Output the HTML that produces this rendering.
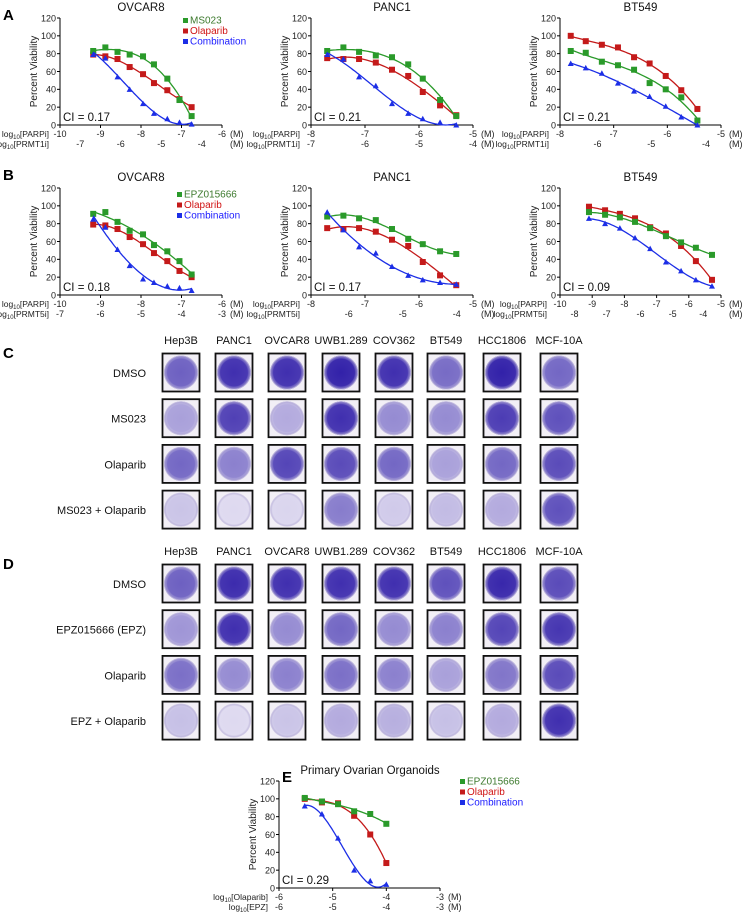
<!DOCTYPE html>
<html><head><meta charset="utf-8"><style>
body{margin:0;background:#fff;}
svg{display:block;font-family:"Liberation Sans",Arial,sans-serif;}
</style></head><body>
<svg id="fig" width="743" height="913" viewBox="0 0 743 913" xmlns="http://www.w3.org/2000/svg">
<defs>
<radialGradient id="wellg" cx="50%" cy="50%" r="50%">
<stop offset="0%" stop-color="#fff" stop-opacity="0"/>
<stop offset="80%" stop-color="#fff" stop-opacity="0.05"/>
<stop offset="92%" stop-color="#b8b0d8" stop-opacity="0.5"/>
<stop offset="100%" stop-color="#d8d2e8" stop-opacity="1"/>
</radialGradient>
</defs>
<g id="charts"></g>
<g id="wells"></g>
</svg>
<script>
// ---------- data ----------
const aOvX=[-9.18,-8.88,-8.58,-8.28,-7.95,-7.68,-7.35,-7.05,-6.75];
const aOvG=[83,87,82,79,77,68,52,28,10];
const aOvR=[79,77,74,65,57,47,39,29,20];
const aOvB=[79,75,54,40,24,13,7,3,1];
const aPaX=[-7.7,-7.4,-7.11,-6.8,-6.5,-6.2,-5.93,-5.61,-5.31];
const aPaG=[83,87,82,78,76,68,52,28,10];
const aPaR=[75,74,74,70,62,55,37,22,11];
const aPaB=[79,74,54,44,24,13,7,3,0];
const aBtX=[-7.8,-7.52,-7.22,-6.92,-6.62,-6.33,-6.03,-5.74,-5.44];
const aBtG=[83,81,71,67,62,47,40,31,5];
const aBtR=[100,94,90,87,76,69,55,39,18];
const aBtB=[69,64,58,47,38,32,21,9,0];
const bOvX=[-9.18,-8.88,-8.58,-8.28,-7.95,-7.68,-7.35,-7.05,-6.75];
const bOvG=[91,93,82,72,68,56,49,38,23];
const bOvR=[79,78,74,65,57,47,38,27,20];
const bOvB=[85,76,51,33,18,14,10,8,5];
const bPaX=[-7.7,-7.4,-7.11,-6.8,-6.5,-6.2,-5.93,-5.61,-5.31];
const bPaG=[88,89,86,84,74,63,57,49,46];
const bPaR=[75,74,75,71,62,55,37,22,11];
const bPaB=[93,73,54,47,32,22,17,14,12];
const bBtX=[-9.1,-8.6,-8.14,-7.67,-7.2,-6.71,-6.24,-5.78,-5.28];
const bBtG=[93,90,87,82,75,66,59,53,45];
const bBtR=[99,95,91,86,76,69,55,38,17];
const bBtB=[86,80,75,64,52,37,27,17,10];
const eX=[-5.52,-5.2,-4.9,-4.6,-4.3,-4.0];
const eG=[101,97,94,86,83,72];
const eR=[100,96,95,81,60,28];
const eB=[92,83,56,20,8,4];
const yTicks=[0,20,40,60,80,100,120];

const cLines=["Hep3B","PANC1","OVCAR8","UWB1.289","COV362","BT549","HCC1806","MCF-10A"];
const cRows=["DMSO","MS023","Olaparib","MS023 + Olaparib"];
const dRows=["DMSO","EPZ015666 (EPZ)","Olaparib","EPZ + Olaparib"];
const cDens=[[0.65,0.88,0.88,0.95,0.88,0.6,0.95,0.62],[0.35,0.8,0.3,0.88,0.45,0.45,0.82,0.72],[0.62,0.5,0.78,0.75,0.62,0.35,0.62,0.75],[0.18,0.08,0.1,0.52,0.15,0.22,0.3,0.72]];
const dDens=[[0.65,0.9,0.88,0.88,0.88,0.72,0.92,0.75],[0.4,0.88,0.45,0.62,0.45,0.5,0.78,0.85],[0.58,0.45,0.5,0.58,0.5,0.35,0.55,0.75],[0.2,0.08,0.18,0.3,0.28,0.2,0.3,0.88]];

// ---------- drawing ----------
const NS="http://www.w3.org/2000/svg";
const root=document.getElementById('charts');
function mk(tag,attrs,parent,txt){const e=document.createElementNS(NS,tag);for(const k in attrs)e.setAttribute(k,attrs[k]);if(txt!==undefined)e.textContent=txt;(parent||root).appendChild(e);return e;}
const COL={g:"#2a9a2a",r:"#c41a1a",b:"#1c2ee6"};
const LCOL={g:"#3d7a2e",r:"#d01515",b:"#1a1aff"};

function polyfit(xs,ys,deg){
  const n=deg+1,A=[];
  for(let i=0;i<n;i++){A.push(new Array(n+1).fill(0));}
  xs.forEach((x,k)=>{for(let i=0;i<n;i++){for(let j=0;j<n;j++)A[i][j]+=Math.pow(x,i+j);A[i][n]+=ys[k]*Math.pow(x,i);}});
  for(let i=0;i<n;i++){let p=i;for(let r=i+1;r<n;r++)if(Math.abs(A[r][i])>Math.abs(A[p][i]))p=r;[A[i],A[p]]=[A[p],A[i]];
    for(let r=0;r<n;r++){if(r===i)continue;const f=A[r][i]/A[i][i];for(let c=i;c<=n;c++)A[r][c]-=f*A[i][c];}}
  return A.map((row,i)=>row[n]/row[i]);
}

function chart(c){
  const g=mk('g',{});
  
  
  const sx=v=>c.x0+(v-c.xmin)/(c.xmax-c.xmin)*(c.x1-c.x0);
  const sy=v=>c.y0-(v/120)*(c.y0-c.y1);
  const t=mk('text',{x:c.tx||(c.x0+c.x1)/2,y:c.y1-7,'font-size':11.5,'text-anchor':'middle',fill:'#111'},g,c.title);
  
  mk('line',{x1:c.x0,y1:c.y0,x2:c.x0,y2:c.y1,stroke:'#000','stroke-width':1},g);
  mk('line',{x1:c.x0,y1:c.y0,x2:c.x1,y2:c.y0,stroke:'#000','stroke-width':1},g);
  yTicks.forEach(v=>{
    mk('line',{x1:c.x0-3,y1:sy(v),x2:c.x0,y2:sy(v),stroke:'#000'},g);
    const tl=mk('text',{x:c.x0-4,y:sy(v)+3.3,'font-size':9,'text-anchor':'end',fill:'#222'},g,String(v));
    
  });
  const yt=mk('text',{x:0,y:0,'font-size':10,'text-anchor':'middle',fill:'#222',transform:`translate(${c.x0-23},${(c.y0+c.y1)/2}) rotate(-90)`},g,'Percent Viability');
  
  for(let v=c.xmin;v<=c.xmax;v++){
    mk('line',{x1:sx(v),y1:c.y0,x2:sx(v),y2:c.y0+3,stroke:'#000'},g);
    const tl=mk('text',{x:sx(v),y:c.y0+12,'font-size':9,'text-anchor':'middle',fill:'#222'},g,String(v));
    
  }
  c.sec.forEach(s=>{
    const tl=mk('text',{x:sx(s[0]),y:c.y0+22,'font-size':9,'text-anchor':'middle',fill:'#222'},g,s[1]);
    
  });
  mk('text',{x:c.x1+8,y:c.y0+12,'font-size':9,fill:'#222'},g,'(M)');
  mk('text',{x:c.x1+8,y:c.y0+22,'font-size':9,fill:'#222'},g,'(M)');
  [[c.l1,12],[c.l2,22]].forEach(([lab,dy])=>{
    const tx=mk('text',{x:c.x0-11-(c.lpad||0),y:c.y0+dy,'font-size':8.5,'text-anchor':'end',fill:'#222'},g);
    mk('tspan',{},tx,'log');mk('tspan',{'font-size':6,dy:2},tx,'10');mk('tspan',{dy:-2},tx,'['+lab+']');
    
  });
  const ci=mk('text',{x:c.x0+3,y:c.y0-4,'font-size':11.5,fill:'#111'},g,'CI = '+c.ci);
  
  c.series.forEach(s=>{
    const coef=polyfit(c.xs,s.v,3);
    const xa=c.xs[0],xb=c.xs[c.xs.length-1];
    let d="";
    for(let k=0;k<=60;k++){const x=xa+(xb-xa)*k/60;let y=coef[0]+coef[1]*x+coef[2]*x*x+coef[3]*x*x*x;y=Math.min(105,Math.max(0,y));
      d+=(k?"L":"M")+sx(x).toFixed(1)+","+sy(y).toFixed(1);}
    const p=mk('path',{d:d,fill:'none',stroke:COL[s.k],'stroke-width':1.3},g);
    
    c.xs.forEach((x,i)=>{
      const q=[sx(x),sy(s.v[i])];
      let m;
      if(s.k==='b') m=mk('polygon',{points:`${q[0]},${q[1]-3} ${q[0]-3},${q[1]+2.5} ${q[0]+3},${q[1]+2.5}`,fill:COL.b},g);
      else m=mk('rect',{x:q[0]-3,y:q[1]-3,width:6,height:6,fill:COL[s.k]},g);
      
    });
  });
  if(c.legend){
    const [lx,ly,names]=c.legend;
    ['g','r','b'].forEach((k,i)=>{
      mk('rect',{x:lx,y:ly+i*10.5-4,width:5,height:5,fill:COL[k]},g);
      const lt=mk('text',{x:lx+7,y:ly+i*10.5+1.5,'font-size':10,fill:LCOL[k]},g,names[i]);
      
    });
  }
}
const ser=(G,R,B,gn)=>[{k:'r',v:R,n:'olaparib'},{k:'g',v:G,n:gn},{k:'b',v:B,n:'combination'}];
chart({name:'chart-a-ovcar8',title:'OVCAR8',x0:60,x1:222,y0:125,y1:18,xmin:-10,xmax:-6,xs:aOvX,series:ser(aOvG,aOvR,aOvB,'ms023'),ci:'0.17',l1:'PARPi',l2:'PRMT1i',sec:[[-9.5,'-7'],[-8.5,'-6'],[-7.5,'-5'],[-6.5,'-4']],legend:[183,22,['MS023','Olaparib','Combination']]});
chart({name:'chart-a-panc1',title:'PANC1',x0:311,x1:473,y0:125,y1:18,xmin:-8,xmax:-5,xs:aPaX,series:ser(aPaG,aPaR,aPaB,'ms023'),ci:'0.21',l1:'PARPi',l2:'PRMT1i',sec:[[-8,'-7'],[-7,'-6'],[-6,'-5'],[-5,'-4']]});
chart({name:'chart-a-bt549',title:'BT549',x0:560,x1:721,y0:125,y1:18,xmin:-8,xmax:-5,xs:aBtX,series:ser(aBtG,aBtR,aBtB,'ms023'),ci:'0.21',l1:'PARPi',l2:'PRMT1i',sec:[[-7.3,'-6'],[-6.3,'-5'],[-5.28,'-4']]});
chart({name:'chart-b-ovcar8',title:'OVCAR8',x0:60,x1:222,y0:295,y1:188,xmin:-10,xmax:-6,xs:bOvX,series:ser(bOvG,bOvR,bOvB,'epz015666'),ci:'0.18',l1:'PARPi',l2:'PRMT5i',sec:[[-10,'-7'],[-9,'-6'],[-8,'-5'],[-7,'-4'],[-6,'-3']],legend:[177,196,['EPZ015666','Olaparib','Combination']]});
chart({name:'chart-b-panc1',title:'PANC1',x0:311,x1:473,y0:295,y1:188,xmin:-8,xmax:-5,xs:bPaX,series:ser(bPaG,bPaR,bPaB,'epz015666'),ci:'0.17',l1:'PARPi',l2:'PRMT5i',sec:[[-7.3,'-6'],[-6.3,'-5'],[-5.3,'-4']]});
chart({name:'chart-b-bt549',title:'BT549',x0:560,x1:721,y0:295,y1:188,xmin:-10,xmax:-5,xs:bBtX,series:ser(bBtG,bBtR,bBtB,'epz015666'),ci:'0.09',l1:'PARPi',l2:'PRMT5i',lpad:2,sec:[[-9.55,'-8'],[-8.55,'-7'],[-7.5,'-6'],[-6.5,'-5'],[-5.55,'-4']]});
chart({name:'chart-e-organoids',title:'Primary Ovarian Organoids',tx:370,x0:279,x1:440,y0:888,y1:781,xmin:-6,xmax:-3,xs:eX,series:ser(eG,eR,eB,'epz015666'),ci:'0.29',l1:'Olaparib',l2:'EPZ',sec:[[-6,'-6'],[-5,'-5'],[-4,'-4'],[-3,'-3']],legend:[460,783,['EPZ015666','Olaparib','Combination']]});

[['A',3,20],['B',3,180],['C',3,358],['D',3,569],['E',282,782]].forEach(([l,x,y])=>{
  const t=mk('text',{x:x,y:y,'font-size':15,'font-weight':'bold',fill:'#000'},root,l);
  
});

const wr=document.getElementById('wells');
const colX=[181,234,287,341,394,446,502,559];
function lerp(a,b,t){return Math.round(a+(b-a)*t);}
function wellColor(d){return `rgb(${lerp(238,40,d)},${lerp(234,22,d)},${lerp(246,165,d)})`;}
function plate(top,rows,dens,tag){
  cLines.forEach((n,i)=>{
    const t=mk('text',{x:colX[i],y:top-9,'font-size':11,'text-anchor':'middle',fill:'#111'},wr,n);
    
  });
  rows.forEach((r,j)=>{
    const y=top+j*45.7;
    const t=mk('text',{x:146,y:y+24,'font-size':11,'text-anchor':'end',fill:'#111'},wr,r);
    
    colX.forEach((cx,i)=>{
      const g=mk('g',{},wr);
      
      
      mk('rect',{x:cx-18.5,y:y+0.5,width:37,height:38,fill:'#f2eff6',stroke:'#111','stroke-width':1.8},g);
      mk('circle',{cx:cx,cy:y+19.5,r:17,fill:wellColor(dens[j][i])},g);
      mk('circle',{cx:cx,cy:y+19.5,r:17,fill:'url(#wellg)'},g);
    });
  });
}
plate(353,cRows,cDens,'c');
plate(564,dRows,dDens,'d');
</script>
</body></html>
